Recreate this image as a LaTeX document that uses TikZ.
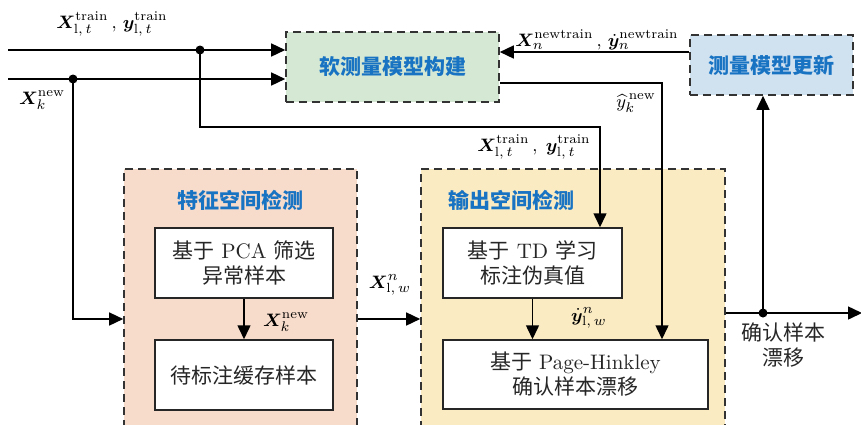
\documentclass[tikz,border=0pt]{standalone}
\usepackage{amsmath}
\usepackage{bm}
\usepackage{fontspec}
\newfontfamily\cjk{Noto Sans CJK SC}
\usetikzlibrary{arrows.meta}
\definecolor{softgreen}{RGB}{213,232,212}
\definecolor{updblue}{RGB}{208,225,240}
\definecolor{featpeach}{RGB}{248,220,203}
\definecolor{outyellow}{RGB}{250,235,195}
\definecolor{titleblue}{RGB}{25,115,195}
\begin{document}
\begin{tikzpicture}[x=0.5pt,y=-0.5pt,
  ln/.style={line width=0.75pt},
  arr/.style={line width=0.75pt,-{Triangle[length=7pt,width=6.5pt]}},
  frame/.style={draw=black!80,dash pattern=on 4pt off 2.5pt,line width=0.8pt,inner sep=0pt},
  inbox/.style={draw=black!85,fill=white,line width=0.75pt,align=center,inner sep=0pt,
    font=\fontsize{10.5}{12.5}\selectfont,text=black!85},
  title/.style={font=\cjk\bfseries\fontsize{10.5}{12}\selectfont,text=titleblue,inner sep=0pt},
  lab/.style={font=\fontsize{9.5}{11}\selectfont,inner sep=0pt},
  dotn/.style={circle,fill=black,inner sep=0pt,minimum size=4.5pt}]
\useasboundingbox (0,0) rectangle (861,424);
\clip (0,0) rectangle (861,424);
% frames
\node[frame,fill=featpeach,minimum width=116.5pt,minimum height=135.5pt] (feat) at (240.5,304.5) {};
\node[frame,fill=outyellow,minimum width=152pt,minimum height=135.5pt] (out) at (573,304.5) {};
\node[frame,fill=softgreen,minimum width=106.5pt,minimum height=35pt] (soft) at (392.5,67) {};
\node[title] (softt) at (soft.center) {软测量模型构建};
\node[frame,fill=updblue,minimum width=81.5pt,minimum height=30pt] (upd) at (771.5,65) {};
\node[title] (updt) at (upd.center) {测量模型更新};
\node[title] (featt) at (240,200) {特征空间检测};
\node[title] (outt) at (511,200) {输出空间检测};
% inner boxes
\node[inbox,minimum width=89pt,minimum height=35pt] (pca) at (244,263) {{\cjk 基于} PCA {\cjk 筛选}\\{\cjk 异常样本}};
\node[inbox,minimum width=89pt,minimum height=35pt] (buf) at (244,375) {\cjk 待标注缓存样本};
\node[inbox,minimum width=89.5pt,minimum height=35pt] (td) at (532.5,263) {{\cjk 基于} TD {\cjk 学习}\\{\cjk 标注伪真值}};
\node[inbox,minimum width=132.5pt,minimum height=34.5pt] (ph) at (575.5,374.5) {{\cjk 基于} Page-Hinkley\\{\cjk 确认样本漂移}};
% coordinates
\coordinate (in1) at (8,50);
\coordinate (in2) at (8,79);
\node[dotn] (dot1) at (200,50) {};
\node[dotn] (dot2) at (73,79) {};
\coordinate (y319) at (0,319);
\coordinate (y52) at (0,52);
\coordinate (c1) at (600,127);
\coordinate (c2) at (662,83);
\coordinate (outend) at (862,313);
\node[dotn] (dot3) at (763,313) {};
% connectors
\draw[arr] (in1) -- (in1 -| soft.west);
\draw[arr] (in2) -- (in2 -| soft.west);
\draw[arr] (dot2.center) |- (feat.west |- y319);
\draw[arr] (dot1.center) |- (c1) -- (c1 |- td.north);
\draw[arr] (c2 -| soft.east) -- (c2) -- (c2 |- ph.north);
\draw[arr] (upd.west |- y52) -- (soft.east |- y52);
\draw[arr] (feat.east |- y319) -- (out.west |- y319);
\draw[arr] (pca.south) -- (buf.north);
\draw[arr] (td.south) -- (td.south |- ph.north);
\draw[arr] (out.east |- outend) -- (outend);
\draw[arr] (dot3.center) -- (dot3 |- upd.south);
% labels
\node[lab] (l1) at (112,24) {$\bm{X}_{\mathrm{l},\,t}^{\mathrm{train}}\,,\,\bm{y}_{\mathrm{l},\,t}^{\mathrm{train}}$};
\node[lab] (l2) at (42,100) {$\bm{X}_{k}^{\mathrm{new}}$};
\node[lab] (l3) at (597,40) {$\bm{X}_{n}^{\mathrm{newtrain}}\,,\,\dot{\bm{y}}_{n}^{\mathrm{newtrain}}$};
\node[lab] (l4) at (636,103) {$\widehat{y}_{k}^{\,\mathrm{new}}$};
\node[lab] (l5) at (534,147) {$\bm{X}_{\mathrm{l},\,t}^{\mathrm{train}}\,,\;\bm{y}_{\mathrm{l},\,t}^{\mathrm{train}}$};
\node[lab] (l6) at (286,322) {$\bm{X}_{k}^{\mathrm{new}}$};
\node[lab] (l7) at (390,285) {$\bm{X}_{\mathrm{l},\,w}^{n}$};
\node[lab] (l8) at (589,318) {$\dot{\bm{y}}_{\mathrm{l},\,w}^{n}$};
\node[lab,align=center,font=\cjk\fontsize{10.5}{12.5}\selectfont,text=black!85] (l9) at (783,345) {确认样本\\漂移};
\end{tikzpicture}
\end{document}
